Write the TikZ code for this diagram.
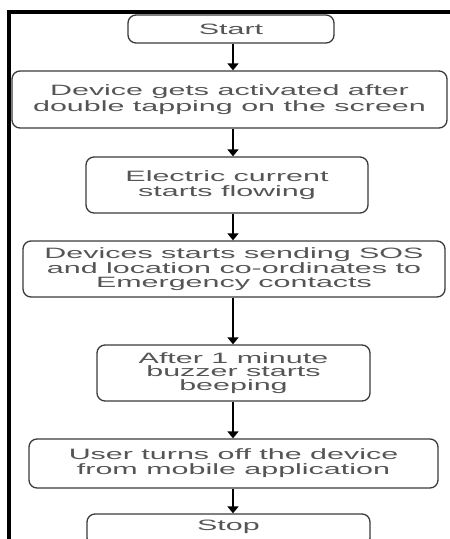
\documentclass[tikz,border=0pt]{standalone}
\usepackage{fontspec}
\setmainfont{Liberation Sans}[FakeStretch=2.03]
\usepackage{tikz}
\usetikzlibrary{arrows.meta,positioning}

\definecolor{boxline}{HTML}{3A3A3A}
\definecolor{boxtext}{HTML}{555555}

\tikzset{
    stepbox/.style={draw=boxline, line width=1.3pt, rounded corners=8pt,
        align=center, inner sep=0pt, text=boxtext,
        font=\fontsize{15}{13.5}\selectfont},
    flow/.style={line width=1.6pt, -{Triangle[width=11pt,length=7pt]}}
}

\begin{document}
\begin{tikzpicture}[x=1pt, y=-1pt]
    \useasboundingbox (0,0) rectangle (450,539);
    \clip (0,0) rectangle (450,539);

    % outer frame
    \draw[line width=3.5pt] (9,560) -- (9,12) -- (470,12);

    \coordinate (axis) at (233,0);

    \node[stepbox, minimum width=206pt, minimum height=28pt] (start)
        at (231,29) {Start};
    \node[stepbox, minimum width=435pt, minimum height=57pt] (activ)
        at (229.5,99.5) {Device gets activated after\\[1.5pt]double tapping on the screen};
    \node[stepbox, minimum width=282pt, minimum height=56pt] (current)
        at (227,185) {Electric current\\[1.5pt]starts flowing};
    \node[stepbox, minimum width=422pt, minimum height=56pt] (sos)
        at (234,269) {Devices starts sending SOS\\and location co-ordinates to\\Emergency contacts};
    \node[stepbox, minimum width=273pt, minimum height=56pt] (buzzer)
        at (233.5,373) {After 1 minute\\buzzer starts\\beeping};
    \node[stepbox, minimum width=409pt, minimum height=49pt] (off)
        at (233.5,463.5) {User turns off the device\\[1.5pt]from mobile application};
    \node[stepbox, minimum width=283pt, minimum height=32pt, text depth=10pt] (stop)
        at (228.5,530) {Stop};

    % connectors
    \draw[flow] (start.south -| axis) -- (activ.north -| axis);
    \draw[flow] (activ.south -| axis) -- (current.north -| axis);
    \draw[flow] (current.south -| axis) -- (sos.north -| axis);
    \draw[flow] (sos.south -| axis) -- (buzzer.north -| axis);
    \draw[flow] (buzzer.south -| axis) -- (off.north -| axis);
    \draw[flow] (off.south -| axis) -- (stop.north -| axis);

\end{tikzpicture}
\end{document}
